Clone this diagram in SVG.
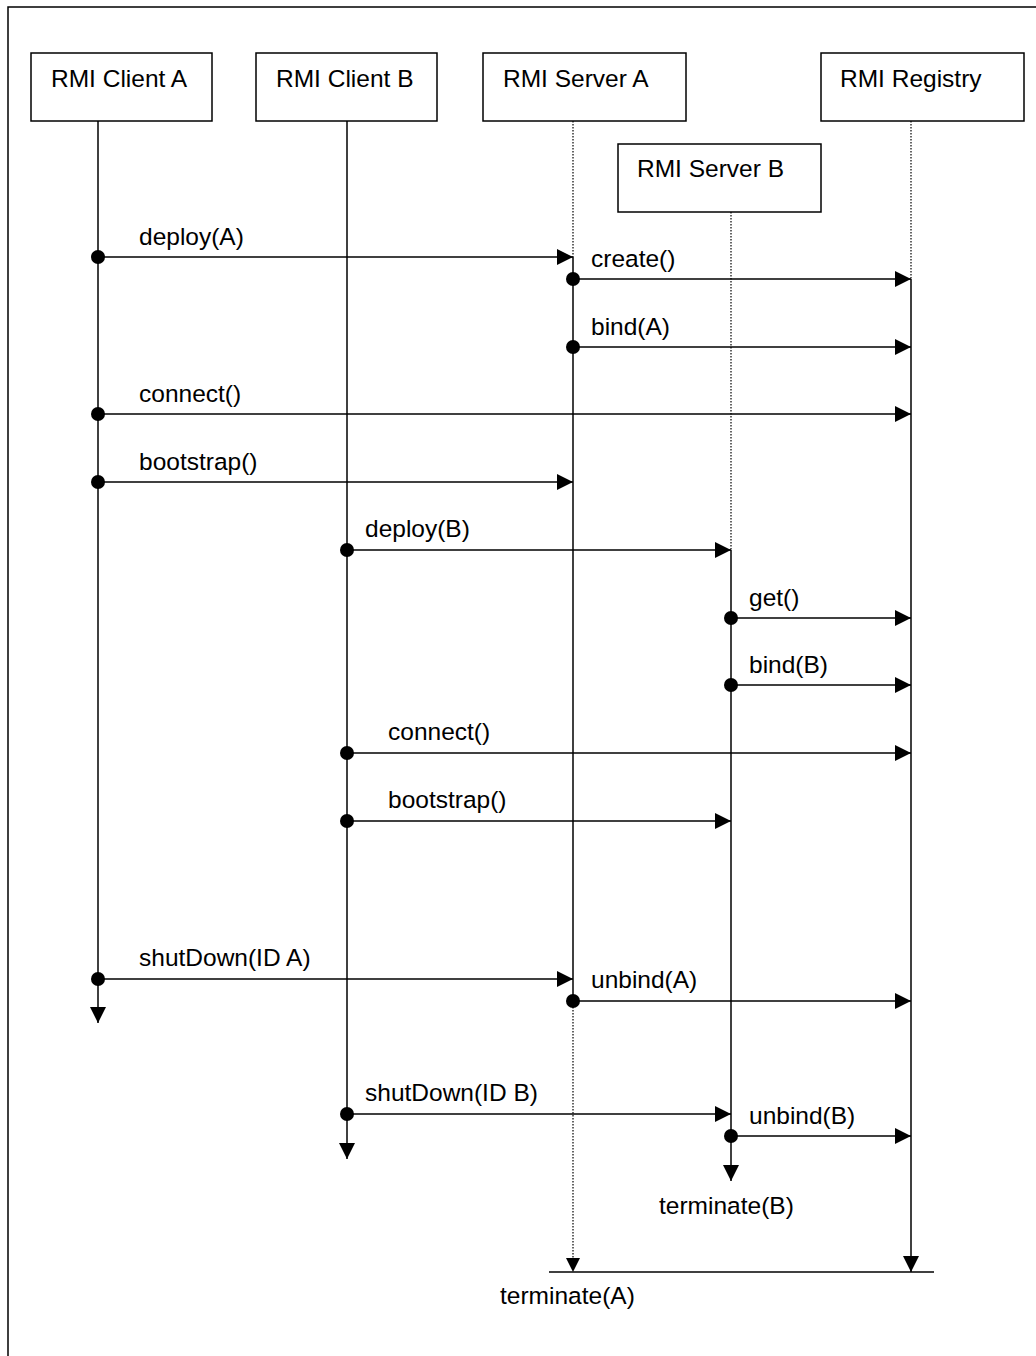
<svg xmlns="http://www.w3.org/2000/svg" width="1036" height="1356" viewBox="0 0 1036 1356">
<style>
text{font-family:"Liberation Sans",Arial,sans-serif;font-size:24.5px;fill:#000}
.box{fill:#fff;stroke:#000;stroke-width:1.5}
.life{stroke:#000;stroke-width:1.5;fill:none}
.dot{stroke:#000;stroke-width:1.2;stroke-dasharray:1.5 1.5;fill:none}
.msg{stroke:#000;stroke-width:1.5;fill:none;marker-start:url(#dot);marker-end:url(#arr)}
</style>
<defs>
<marker id="arr" markerUnits="userSpaceOnUse" markerWidth="16" markerHeight="16" viewBox="0 0 14 14" refX="14" refY="7" orient="auto"><path d="M0,0L14,7L0,14Z" fill="#000"/></marker>
<marker id="dot" markerUnits="userSpaceOnUse" markerWidth="16" markerHeight="16" viewBox="0 0 16 16" refX="8" refY="8" orient="auto"><circle cx="8" cy="8" r="7" fill="#000"/></marker>
</defs>
<rect x="8" y="7" width="1040" height="1360" fill="none" stroke="#000" stroke-width="1.5"/>
<g id="clientA"><rect class="box" x="31" y="53" width="181" height="68"/><text x="51" y="87">RMI Client A</text></g>
<g id="clientB"><rect class="box" x="256" y="53" width="181" height="68"/><text x="276" y="87">RMI Client B</text></g>
<g id="serverA"><rect class="box" x="483" y="53" width="203" height="68"/><text x="503" y="87">RMI Server A</text></g>
<g id="registry"><rect class="box" x="821" y="53" width="203" height="68"/><text x="840" y="87">RMI Registry</text></g>
<g id="serverB"><rect class="box" x="618" y="144" width="203" height="68"/><text x="637" y="177">RMI Server B</text></g>
<g id="connectors">
<line class="life" x1="98" y1="121" x2="98" y2="1023" marker-end="url(#arr)"/>
<line class="life" x1="347" y1="121" x2="347" y2="1159" marker-end="url(#arr)"/>
<line class="dot" x1="573" y1="121" x2="573" y2="257"/>
<line class="life" x1="573" y1="257" x2="573" y2="1001"/>
<line class="dot" x1="573" y1="1001" x2="573" y2="1259"/>
<path d="M566,1258L580,1258L573,1272Z" fill="#000"/>
<line class="dot" x1="731" y1="212" x2="731" y2="550"/>
<line class="life" x1="731" y1="550" x2="731" y2="1181" marker-end="url(#arr)"/>
<line class="dot" x1="911" y1="121" x2="911" y2="279"/>
<line class="life" x1="911" y1="279" x2="911" y2="1272" marker-end="url(#arr)"/>
<line class="life" x1="549" y1="1272" x2="934" y2="1272"/>
<line class="msg" x1="98" y1="257" x2="573" y2="257"/>
<line class="msg" x1="573" y1="279" x2="911" y2="279"/>
<line class="msg" x1="573" y1="347" x2="911" y2="347"/>
<line class="msg" x1="98" y1="414" x2="911" y2="414"/>
<line class="msg" x1="98" y1="482" x2="573" y2="482"/>
<line class="msg" x1="347" y1="550" x2="731" y2="550"/>
<line class="msg" x1="731" y1="618" x2="911" y2="618"/>
<line class="msg" x1="731" y1="685" x2="911" y2="685"/>
<line class="msg" x1="347" y1="753" x2="911" y2="753"/>
<line class="msg" x1="347" y1="821" x2="731" y2="821"/>
<line class="msg" x1="98" y1="979" x2="573" y2="979"/>
<line class="msg" x1="573" y1="1001" x2="911" y2="1001"/>
<line class="msg" x1="347" y1="1114" x2="731" y2="1114"/>
<line class="msg" x1="731" y1="1136" x2="911" y2="1136"/>
</g>
<g id="labels">
<text x="139" y="245">deploy(A)</text>
<text x="591" y="267">create()</text>
<text x="591" y="335">bind(A)</text>
<text x="139" y="402">connect()</text>
<text x="139" y="470">bootstrap()</text>
<text x="365" y="537">deploy(B)</text>
<text x="749" y="606">get()</text>
<text x="749" y="673">bind(B)</text>
<text x="388" y="740">connect()</text>
<text x="388" y="808">bootstrap()</text>
<text x="139" y="966">shutDown(ID A)</text>
<text x="591" y="988">unbind(A)</text>
<text x="365" y="1101">shutDown(ID B)</text>
<text x="749" y="1124">unbind(B)</text>
<text x="659" y="1214">terminate(B)</text>
<text x="500" y="1304">terminate(A)</text>
</g>
</svg>
